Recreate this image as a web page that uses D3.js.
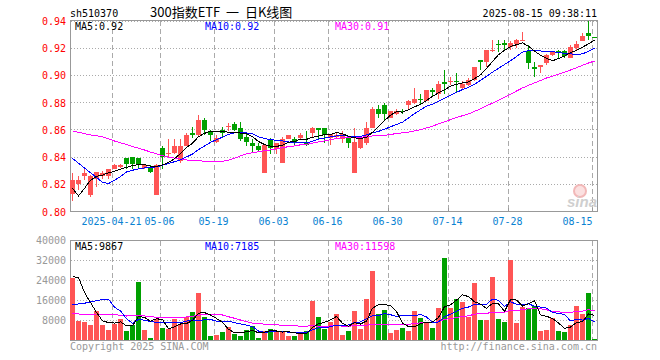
<!DOCTYPE html>
<html>
<head>
<meta charset="utf-8">
<script src="https://cdn.jsdelivr.net/npm/d3@7"></script>
<style>
body { margin: 0; background: #fff; }
svg text { font-family: "DejaVu Sans Mono", monospace; font-size: 10px; }
</style>
</head>
<body>
<svg id="chart" width="660" height="360"></svg>
<script>
// trading days shown (2025)
var dates = ["04-10","04-11","04-14","04-15","04-16","04-17","04-18","04-21","04-22","04-23",
  "04-24","04-25","04-28","04-29","04-30","05-06","05-07","05-08","05-09","05-12",
  "05-13","05-14","05-15","05-16","05-19","05-20","05-21","05-22","05-23","05-26",
  "05-27","05-28","05-29","05-30","06-03","06-04","06-05","06-06","06-09","06-10",
  "06-11","06-12","06-13","06-16","06-17","06-18","06-19","06-20","06-23","06-24",
  "06-25","06-26","06-27","06-30","07-01","07-02","07-03","07-04","07-07","07-08",
  "07-09","07-10","07-11","07-14","07-15","07-16","07-17","07-18","07-21","07-22",
  "07-23","07-24","07-25","07-28","07-29","07-30","07-31","08-01","08-04","08-05",
  "08-06","08-07","08-08","08-11","08-12","08-13","08-14","08-15"];

var open  = [.813,.820,.826,.812,.824,.826,.826,.831,.833,.839,.840,.839,.832,.833,.812,.847,.842,.843,.837,.848,
  .858,.856,.867,.859,.851,.860,.862,.864,.861,.855,.850,.848,.828,.853,.846,.836,.853,.853,.854,.851,
  .858,.861,.861,.854,.855,.853,.855,.828,.847,.850,.861,.875,.878,.869,.872,.874,.878,.880,.883,.881,
  .889,.886,.895,.895,.896,.891,.893,.897,.911,.910,.918,.923,.924,.921,.923,.925,.918,.906,.906,.909,
  .915,.918,.918,.913,.920,.925,.931,.9282];
var high  = [.828,.826,.831,.827,.829,.830,.831,.835,.835,.839,.840,.839,.835,.834,.835,.848,.853,.853,.853,.858,
  .862,.871,.869,.860,.856,.862,.865,.866,.866,.858,.853,.850,.849,.854,.850,.855,.856,.855,.858,.859,
  .862,.861,.861,.857,.858,.859,.855,.861,.855,.866,.877,.878,.880,.874,.875,.875,.882,.891,.886,.889,
  .891,.896,.904,.899,.902,.896,.898,.906,.911,.919,.926,.926,.926,.925,.927,.932,.922,.910,.908,.916,
  .918,.919,.919,.922,.925,.931,.940,.9282];
var low   = [.808,.816,.823,.811,.818,.824,.824,.831,.832,.831,.831,.831,.831,.828,.812,.831,.840,.842,.836,.848,
  .854,.855,.856,.852,.850,.855,.859,.859,.852,.848,.844,.844,.828,.842,.842,.836,.853,.849,.853,.848,
  .855,.853,.850,.849,.853,.850,.847,.828,.846,.849,.861,.869,.867,.869,.871,.872,.875,.879,.878,.881,
  .885,.883,.886,.893,.887,.889,.892,.896,.904,.906,.917,.917,.919,.919,.920,.925,.905,.899,.902,.908,
  .914,.913,.913,.913,.919,.925,.926,.928];
var close = [.823,.823,.828,.826,.829,.828,.831,.834,.834,.835,.835,.834,.834,.829,.834,.840,.843,.848,.848,.856,
  .856,.867,.860,.856,.854,.858,.863,.860,.853,.851,.848,.845,.849,.847,.850,.853,.856,.851,.856,.849,
  .861,.860,.856,.857,.856,.857,.850,.851,.854,.861,.875,.872,.872,.874,.874,.873,.881,.883,.882,.889,
  .888,.894,.894,.896,.895,.894,.897,.906,.910,.919,.919,.922,.922,.924,.926,.926,.909,.905,.908,.915,
  .917,.917,.914,.921,.923,.929,.929,.928];

var volume = [25000,7700,7200,6000,11600,6000,4000,6300,8300,3600,6000,23200,4000,900,8300,4800,4300,8300,6300,9100,
  11200,18900,9300,1600,2100,3300,5100,2400,1600,4000,5700,900,3700,4400,3300,3600,1600,1600,2300,3700,
  15700,9200,4400,7300,10400,2000,3600,11600,4400,16400,27600,10400,12000,2700,4000,4700,3600,11600,8800,7100,
  4900,12800,32900,12900,16400,15300,9300,22700,8000,8000,25300,8400,7300,32000,6900,13300,12700,13700,3700,4100,
  8900,3600,3200,6000,13500,10400,19000,400];

// moving average lines as drawn
var ma5 = [.8170,.8115,.8170,.8230,.8258,.8268,.8284,.8296,.8312,.8324,.8338,.8344,.8344,.8334,.8332,.8342,.8360,.8388,.8426,.8470,
  .8502,.8550,.8574,.8590,.8586,.8590,.8582,.8582,.8576,.8570,.8550,.8514,.8492,.8480,.8478,.8488,.8510,.8514,.8532,.8530,
  .8546,.8554,.8564,.8566,.8580,.8572,.8552,.8542,.8536,.8546,.8582,.8626,.8668,.8708,.8734,.8730,.8748,.8770,.8786,.8816,
  .8846,.8872,.8894,.8922,.8934,.8946,.8952,.8976,.9004,.9052,.9102,.9152,.9184,.9212,.9226,.9240,.9214,.9180,.9148,.9126,
  .9108,.9124,.9142,.9168,.9184,.9208,.9232,.9260];
var ma10 = [.8390,.8355,.8320,.8285,.8250,.8215,.8205,.8230,.8256,.8291,.8303,.8314,.8320,.8323,.8328,.8340,.8352,.8366,.8380,.8401,
  .8422,.8455,.8481,.8508,.8528,.8546,.8566,.8578,.8583,.8578,.8570,.8548,.8537,.8528,.8524,.8519,.8512,.8503,.8506,.8504,
  .8517,.8532,.8539,.8549,.8555,.8559,.8553,.8553,.8551,.8563,.8577,.8589,.8605,.8622,.8640,.8656,.8687,.8719,.8747,.8775,
  .8788,.8810,.8832,.8854,.8875,.8896,.8912,.8935,.8963,.8993,.9024,.9052,.9080,.9108,.9139,.9171,.9183,.9182,.9180,.9176,
  .9174,.9169,.9161,.9158,.9155,.9158,.9178,.9201];
var ma30 = [.8592,.8582,.8572,.8563,.8557,.8548,.8535,.8518,.8505,.8493,.8477,.8465,.8452,.8437,.8424,.8410,.8400,.8392,.8385,.8379,
  .8375,.8373,.8370,.8368,.8366,.8368,.8378,.8392,.8408,.8423,.8432,.8439,.8446,.8453,.8460,.8468,.8477,.8482,.8490,.8494,
  .8503,.8512,.8519,.8528,.8536,.8541,.8544,.8545,.8547,.8548,.8555,.8556,.8560,.8566,.8573,.8578,.8584,.8592,.8601,.8614,
  .8627,.8644,.8659,.8675,.8690,.8704,.8717,.8736,.8754,.8777,.8796,.8817,.8839,.8861,.8885,.8908,.8927,.8945,.8963,.8981,
  .8995,.9010,.9024,.9040,.9056,.9075,.9091,.9106];

var vma5 = [25300,25000,19000,15000,11000,7700,6960,6780,7240,5640,5640,9480,9020,7540,8480,8240,4460,5320,6400,6560,
  7840,10760,10960,10020,8620,7040,4280,2900,2900,3280,3760,2920,3180,3740,3600,3180,3320,2900,2480,2560,
  4980,6500,7060,8060,9400,6660,5540,6980,6400,7600,12720,14080,14160,13820,11340,6760,5400,5320,6540,7160,
  7200,9040,13300,14120,15980,18060,17360,15320,14340,12660,14660,14480,11400,16200,15980,13580,14440,15720,10060,9500,
  8620,6800,4700,5160,7040,7340,10420,9860];
var vma10 = [14000,14400,14700,15300,15700,16200,16300,13100,11600,8570,6670,8220,7900,7390,7060,6940,6970,7170,6970,7520,
  8040,7610,8140,8210,7590,7440,7520,6930,6460,5950,5400,3600,3040,3320,3440,3470,3120,3040,3110,3080,
  4080,4910,4980,5270,5980,5820,6020,7020,7230,8500,9690,9810,10570,10110,9470,9740,9740,9740,10180,9250,
  6980,7220,9310,10330,11570,12630,13200,14310,14230,14320,16360,15920,13360,15270,14320,14120,14460,13560,13130,12740,
  11100,10620,10210,7610,8270,7980,8610,7280];
var vma30 = [10700,10400,10300,10300,10400,10400,10400,10200,9800,9600,9800,9900,9600,9300,9100,9100,9100,9100,9100,9200,
  9500,9900,10200,10400,10400,10000,9300,8700,8000,7350,6700,6480,6360,6310,6030,5950,5870,5710,5510,5520,
  5840,5370,5390,5600,5670,5580,5550,5660,5600,5840,6390,6110,6200,6230,6300,6340,6290,6600,6840,6940,
  6920,7310,8290,8570,9010,9400,9650,10360,10550,10690,11010,10980,11080,11900,11790,12160,12470,12540,12510,12100,
  11480,11250,10960,11070,11390,11580,12090,11720];

var tickDates  = ["04-21","05-06","05-19","06-03","06-16","06-30","07-14","07-28","08-15"];
var tickLabels = ["2025-04-21","05-06","05-19","06-03","06-16","06-30","07-14","07-28","08-15"];
var priceTicks = [0.80,0.82,0.84,0.86,0.88,0.90,0.92,0.94];
var volTicks   = [8000,16000,24000,32000,40000];

var RED = "#ff5555", GREEN = "#00a000", GRID = "#aaaaaa", FRAME = "#999999";

var svg = d3.select("#chart");

var x = d3.scaleBand().domain(dates).range([70, 70 + dates.length * 6]);
var yP = d3.scaleLinear().domain([0.80, 0.94]).range([211.5, 21]);
var yV = d3.scaleLinear().domain([0, 40000]).range([340, 240]);

function col(i) { return close[i] < open[i] ? GREEN : RED; }

// header
svg.append("text").attr("x", 70).attr("y", 17).text("sh510370");
svg.append("text").attr("x", 150).attr("y", 17)
  .style("font-family", "'Noto Sans CJK SC', sans-serif").style("font-size", "13px")
  .style("white-space", "pre").text("300指数ETF  一  日K线图");
svg.append("text").attr("x", 597).attr("y", 17).attr("text-anchor", "end").text("2025-08-15 09:38:11");

// panels: grid, labels, frame
function panel(top, bottom, yScale, ticks, fmt, labelColor) {
  var g = svg.append("g");
  ticks.forEach(function (t) {
    var yy = Math.floor(yScale(t)) + 0.5;
    if (yy > top + 1 && yy < bottom - 1) {
      g.append("line").attr("x1", 71).attr("x2", 597).attr("y1", yy).attr("y2", yy)
        .attr("stroke", GRID).attr("stroke-dasharray", "1,2");
    }
    g.append("text").attr("x", 66).attr("y", yScale(t) + 4).attr("text-anchor", "end")
      .attr("fill", labelColor).text(fmt(t));
  });
  tickDates.forEach(function (d) {
    g.append("line").attr("x1", x(d) + 0.5).attr("x2", x(d) + 0.5)
      .attr("y1", top + 1).attr("y2", bottom)
      .attr("stroke", GRID).attr("stroke-dasharray", "5,3");
  });
  g.append("rect").attr("x", 70.5).attr("y", top + 0.5).attr("width", 527).attr("height", bottom - top)
    .attr("fill", "none").attr("stroke", FRAME);
  return g;
}
panel(20, 211, yP, priceTicks, d3.format(".2f"), "#ff0000");
panel(240, 340, yV, volTicks, function (v) { return String(v); }, "#999999");

// axis ticks + date labels
tickDates.forEach(function (d, k) {
  svg.append("line").attr("x1", x(d) + 0.5).attr("x2", x(d) + 0.5).attr("y1", 208).attr("y2", 211)
    .attr("stroke", FRAME);
  var last = k === tickDates.length - 1;
  svg.append("text").attr("x", last ? x(d) + 0.5 : x(d) - 0.5).attr("y", 225)
    .attr("text-anchor", last ? "end" : "middle").attr("fill", "#0a82d2").text(tickLabels[k]);
});

// watermark
svg.append("circle").attr("cx", 580).attr("cy", 191).attr("r", 6)
  .attr("fill", "#fbe0e0").attr("stroke", "#f2b8b8").attr("stroke-width", 2);
svg.append("text").attr("x", 597).attr("y", 207).attr("text-anchor", "end")
  .style("font-family", "'Liberation Sans', sans-serif").style("font-size", "15px")
  .style("font-style", "italic").style("font-weight", "bold").attr("fill", "#cfcfcf").text("sina");

// candles
var idx = d3.range(dates.length);
var cg = svg.append("g").attr("shape-rendering", "crispEdges");
cg.selectAll("line.wick").data(idx).enter().append("line").attr("class", "wick")
  .attr("x1", function (i) { return x(dates[i]) + 2.5; })
  .attr("x2", function (i) { return x(dates[i]) + 2.5; })
  .attr("y1", function (i) { return yP(high[i]); })
  .attr("y2", function (i) { return yP(low[i]); })
  .attr("stroke", col);
cg.selectAll("rect.body").data(idx).enter().append("rect").attr("class", "body")
  .attr("x", function (i) { return x(dates[i]); })
  .attr("width", 5)
  .attr("y", function (i) { return yP(Math.max(open[i], close[i])); })
  .attr("height", function (i) { return Math.max(1, Math.abs(yP(open[i]) - yP(close[i]))); })
  .attr("fill", col);

// volume bars
cg.selectAll("rect.vol").data(idx).enter().append("rect").attr("class", "vol")
  .attr("x", function (i) { return x(dates[i]); })
  .attr("width", 5)
  .attr("y", function (i) { return yV(volume[i]); })
  .attr("height", function (i) { return 340 - yV(volume[i]); })
  .attr("fill", col);

// MA lines
function maLine(arr, yScale, color) {
  var line = d3.line()
    .x(function (d, i) { return x(dates[i]) + 2.5; })
    .y(function (d) { return yScale(d); });
  svg.append("path").datum(arr).attr("d", line).attr("fill", "none")
    .attr("stroke", color).attr("stroke-width", 1).attr("shape-rendering", "crispEdges");
}
maLine(ma30, yP, "#ff00ff");
maLine(ma10, yP, "#0000ff");
maLine(ma5, yP, "#000000");
maLine(vma30, yV, "#ff00ff");
maLine(vma10, yV, "#0000ff");
maLine(vma5, yV, "#000000");

// MA legends
var legends = [
  { y: 30, items: [["MA5:0.92", "#000"], ["MA10:0.92", "#0000ff"], ["MA30:0.91", "#ff00ff"]] },
  { y: 250, items: [["MA5:9867", "#000"], ["MA10:7185", "#0000ff"], ["MA30:11598", "#ff00ff"]] }
];
legends.forEach(function (l) {
  [75, 205, 335].forEach(function (xx, k) {
    svg.append("text").attr("x", xx).attr("y", l.y).attr("fill", l.items[k][1]).text(l.items[k][0]);
  });
});

// footer
svg.append("text").attr("x", 70).attr("y", 350).attr("fill", "#999").text("Copyright 2025 SINA.COM");
svg.append("text").attr("x", 597).attr("y", 350).attr("text-anchor", "end").attr("fill", "#999")
  .text("http://finance.sina.com.cn");
</script>
</body>
</html>
